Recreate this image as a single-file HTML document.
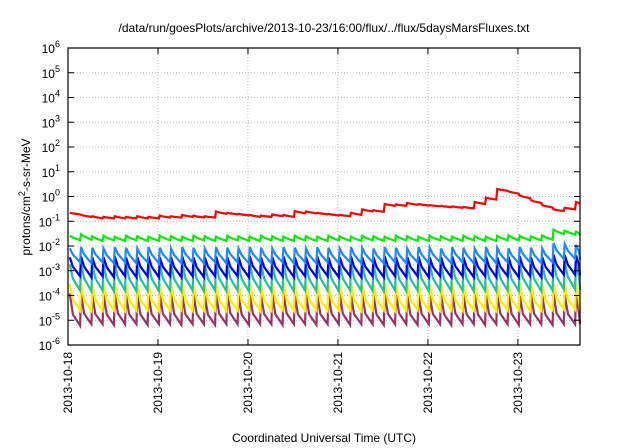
<!DOCTYPE html>
<html><head><meta charset="utf-8"><style>
body{margin:0;background:#fff;}
svg{display:block;font-family:"Liberation Sans",sans-serif;}
</style></head><body>
<svg id="chart" width="640" height="448" viewBox="0 0 640 448">
<text x="324" y="32" font-size="12" text-anchor="middle">/data/run/goesPlots/archive/2013-10-23/16:00/flux/../flux/5daysMarsFluxes.txt</text>
<text x="324" y="442" font-size="12" text-anchor="middle">Coordinated Universal Time (UTC)</text>
<text transform="translate(30,197) rotate(-90)" font-size="12" text-anchor="middle">protons/cm<tspan dy="-5" font-size="9">2</tspan><tspan dy="5">-s-sr-MeV</tspan></text>
<g id="grid"></g><g id="series"></g><g id="axes"></g>
</svg>
<script>
const xTickLabels=["2013-10-18","2013-10-19","2013-10-20","2013-10-21","2013-10-22","2013-10-23"];
const yExponents=[-6,-5,-4,-3,-2,-1,0,1,2,3,4,5,6];
const cycleTimes=[0.02,0.145,0.27,0.395,0.52,0.645,0.77,0.895,1.02,1.145,1.27,1.395,1.52,1.645,1.77,1.895,2.02,2.145,2.27,2.395,2.52,2.645,2.77,2.895,3.02,3.145,3.27,3.395,3.52,3.645,3.77,3.895,4.02,4.145,4.27,4.395,4.52,4.645,4.77,4.895,5.02,5.145,5.27,5.395,5.52,5.645];
const maroonPeak=[1.2e-4,1.1e-4,1.0e-4,1.1e-4,1.2e-4,1.0e-4,1.1e-4,1.0e-4, 1.1e-4,1.2e-4,1.0e-4,1.1e-4,1.0e-4,1.1e-4,1.2e-4,1.0e-4, 1.1e-4,1.0e-4,1.1e-4,1.2e-4,1.0e-4,1.1e-4,1.0e-4,1.1e-4, 1.2e-4,1.0e-4,1.1e-4,1.0e-4,1.1e-4,1.2e-4,1.0e-4,1.1e-4, 1.0e-4,1.1e-4,1.2e-4,1.0e-4,1.1e-4,1.0e-4,1.1e-4,1.2e-4, 1.0e-4,1.1e-4,1.0e-4,1.2e-4,1.1e-4,1.0e-4];
const maroonTrough=[6e-6,7e-6,7e-6,6.5e-6,7e-6,7e-6,6.5e-6,7e-6, 7e-6,6.5e-6,7e-6,7e-6,6.5e-6,7e-6,7e-6,6.5e-6, 7e-6,7e-6,6.5e-6,7e-6,7e-6,6.5e-6,7e-6,7e-6, 6.5e-6,7e-6,7e-6,6.5e-6,7e-6,7e-6,6.5e-6,7e-6, 7e-6,6.5e-6,7e-6,7e-6,6.5e-6,7e-6,7e-6,6.5e-6, 7e-6,7e-6,6.5e-6,7e-6,7e-6,7e-6];
const yellowPeak=[3e-4,3.2e-4,2.8e-4,3e-4,3.2e-4,2.8e-4,3e-4,3.2e-4, 2.8e-4,3e-4,3.2e-4,2.8e-4,3e-4,3.2e-4,2.8e-4,3e-4, 3.2e-4,2.8e-4,3e-4,3.2e-4,2.8e-4,3e-4,3.2e-4,2.8e-4, 3e-4,3.2e-4,2.8e-4,3e-4,3.2e-4,2.8e-4,3e-4,3.2e-4, 2.8e-4,3e-4,3.2e-4,2.8e-4,3e-4,3.2e-4,2.8e-4,3e-4, 3.2e-4,2.8e-4,3e-4,3.4e-4,3.2e-4,3e-4];
const yellowTrough=[2.5e-5,2.4e-5,2.5e-5,2.6e-5,2.4e-5,2.5e-5,2.6e-5,2.4e-5, 2.5e-5,2.6e-5,2.4e-5,2.5e-5,2.6e-5,2.4e-5,2.5e-5,2.6e-5, 2.4e-5,2.5e-5,2.6e-5,2.4e-5,2.5e-5,2.6e-5,2.4e-5,2.5e-5, 2.6e-5,2.4e-5,2.5e-5,2.6e-5,2.4e-5,2.5e-5,2.6e-5,2.4e-5, 2.5e-5,2.6e-5,2.4e-5,2.5e-5,2.6e-5,2.4e-5,2.5e-5,2.6e-5, 2.4e-5,2.5e-5,2.6e-5,2.8e-5,2.8e-5,2.6e-5];
const tealPeak=[1.8e-3,2e-3,1.9e-3,1.8e-3,2e-3,1.9e-3,1.8e-3,2e-3, 1.9e-3,1.8e-3,2e-3,1.9e-3,1.8e-3,2e-3,1.9e-3,1.8e-3, 2e-3,1.9e-3,1.8e-3,2e-3,1.9e-3,1.8e-3,2e-3,1.9e-3, 1.8e-3,2e-3,1.9e-3,1.8e-3,2e-3,1.9e-3,1.8e-3,2e-3, 1.9e-3,1.8e-3,2e-3,1.9e-3,1.8e-3,2e-3,1.9e-3,1.8e-3, 2e-3,1.9e-3,1.8e-3,2.3e-3,2.2e-3,2.1e-3];
const tealTrough=[1.6e-4,1.5e-4,1.6e-4,1.5e-4,1.6e-4,1.5e-4,1.6e-4,1.5e-4, 1.6e-4,1.5e-4,1.6e-4,1.5e-4,1.6e-4,1.5e-4,1.6e-4,1.5e-4, 1.6e-4,1.5e-4,1.6e-4,1.5e-4,1.6e-4,1.5e-4,1.6e-4,1.5e-4, 1.6e-4,1.5e-4,1.6e-4,1.5e-4,1.6e-4,1.5e-4,1.6e-4,1.5e-4, 1.6e-4,1.5e-4,1.6e-4,1.5e-4,1.6e-4,1.5e-4,1.6e-4,1.5e-4, 1.6e-4,1.5e-4,1.6e-4,1.8e-4,1.8e-4,1.7e-4];
const bluePeak=[3.5e-3,3.8e-3,3.5e-3,3.6e-3,3.8e-3,3.5e-3,3.6e-3,3.8e-3, 3.5e-3,3.6e-3,3.8e-3,3.5e-3,3.6e-3,3.8e-3,3.5e-3,3.6e-3, 3.8e-3,3.5e-3,3.6e-3,3.8e-3,3.5e-3,3.6e-3,3.8e-3,3.5e-3, 3.6e-3,3.8e-3,3.5e-3,3.6e-3,3.8e-3,3.5e-3,3.6e-3,3.8e-3, 3.5e-3,3.6e-3,3.8e-3,3.5e-3,3.6e-3,3.8e-3,3.5e-3,3.6e-3, 3.8e-3,3.5e-3,3.6e-3,4.5e-3,4.3e-3,4.2e-3];
const blueTrough=[6e-4,5.5e-4,6e-4,5.5e-4,6e-4,5.5e-4,6e-4,5.5e-4, 6e-4,5.5e-4,6e-4,5.5e-4,6e-4,5.5e-4,6e-4,5.5e-4, 6e-4,5.5e-4,6e-4,5.5e-4,6e-4,5.5e-4,6e-4,5.5e-4, 6e-4,5.5e-4,6e-4,5.5e-4,6e-4,5.5e-4,6e-4,5.5e-4, 6e-4,5.5e-4,6e-4,5.5e-4,6e-4,5.5e-4,6e-4,5.5e-4, 6e-4,5.5e-4,6e-4,7e-4,7e-4,6.5e-4];
const skyPeak=[8e-3,9e-3,8.5e-3,8e-3,9e-3,8.5e-3,8e-3,9e-3, 8.5e-3,8e-3,9e-3,8.5e-3,8e-3,9e-3,8.5e-3,8e-3, 9e-3,8.5e-3,8e-3,9e-3,8.5e-3,8e-3,9e-3,8.5e-3, 8e-3,9e-3,8.5e-3,8e-3,9e-3,8.5e-3,8e-3,9e-3, 8.5e-3,8e-3,9e-3,8.5e-3,8e-3,9e-3,8.5e-3,8e-3, 9e-3,8.5e-3,8e-3,1.3e-2,1.2e-2,1.1e-2];
const skyTrough=[2.2e-3,2e-3,2.2e-3,2e-3,2.2e-3,2e-3,2.2e-3,2e-3, 2.2e-3,2e-3,2.2e-3,2e-3,2.2e-3,2e-3,2.2e-3,2e-3, 2.2e-3,2e-3,2.2e-3,2e-3,2.2e-3,2e-3,2.2e-3,2e-3, 2.2e-3,2e-3,2.2e-3,2e-3,2.2e-3,2e-3,2.2e-3,2e-3, 2.2e-3,2e-3,2.2e-3,2e-3,2.2e-3,2e-3,2.2e-3,2e-3, 2.2e-3,2e-3,2.2e-3,3e-3,3e-3,2.8e-3];
const greenPeak=[0.026,0.03,0.025,0.026,0.024,0.026,0.025,0.024, 0.026,0.025,0.024,0.026,0.025,0.024,0.026,0.025, 0.024,0.026,0.025,0.024,0.026,0.025,0.024,0.026, 0.025,0.024,0.026,0.025,0.024,0.026,0.025,0.024, 0.026,0.025,0.024,0.026,0.025,0.024,0.026,0.027, 0.026,0.025,0.027,0.046,0.042,0.038];
const greenTrough=[0.017,0.018,0.016,0.017,0.016,0.017,0.016,0.016, 0.017,0.016,0.016,0.017,0.016,0.016,0.017,0.016, 0.016,0.017,0.016,0.016,0.017,0.016,0.016,0.017, 0.016,0.016,0.017,0.016,0.016,0.017,0.016,0.016, 0.017,0.016,0.016,0.017,0.016,0.016,0.017,0.017, 0.017,0.017,0.018,0.03,0.029,0.027];
const redPeak=[0.22,0.18,0.16,0.15,0.16,0.15,0.16,0.15, 0.17,0.16,0.18,0.17,0.16,0.25,0.22,0.2, 0.18,0.17,0.19,0.18,0.26,0.25,0.22,0.2, 0.18,0.22,0.3,0.28,0.5,0.48,0.55,0.5, 0.45,0.42,0.4,0.38,0.6,0.9,2.0,1.6, 1.1,0.7,0.45,0.3,0.35,0.6];
const redTrough=[0.19,0.15,0.13,0.13,0.13,0.13,0.13,0.13, 0.14,0.14,0.15,0.14,0.14,0.2,0.19,0.17, 0.15,0.15,0.16,0.15,0.21,0.21,0.19,0.17, 0.16,0.18,0.25,0.24,0.42,0.42,0.46,0.43, 0.4,0.37,0.35,0.33,0.5,0.75,1.7,1.3, 0.85,0.55,0.36,0.26,0.3,0.5];

const NS="http://www.w3.org/2000/svg";
const L=68,R=580,T=48,B=345,DAYS=5.69;
const xs=d=>L+(R-L)*d/DAYS;
const ys=v=>B-(B-T)*(Math.log10(v)+6)/12;
function mk(tag,parent,attrs){const e=document.createElementNS(NS,tag);for(const k in attrs)e.setAttribute(k,attrs[k]);parent.appendChild(e);return e;}
const grid=document.getElementById('grid'),axes=document.getElementById('axes'),ser=document.getElementById('series');
yExponents.forEach((e,i)=>{
  const y=ys(Math.pow(10,e));
  if(e>-6&&e<6){const g=mk('line',grid,{x1:L,x2:R,y1:y,y2:y,stroke:'#bbb','stroke-dasharray':'1,2','stroke-width':1});
  
  }
  const t=mk('text',axes,{x:L-8,y:y+5,'font-size':12,'text-anchor':'end'});
  
  
  t.innerHTML='10<tspan dy="-6" font-size="9">'+e+'</tspan>';
  mk('line',axes,{x1:L,x2:L+6,y1:y,y2:y,stroke:'#000'});
  mk('line',axes,{x1:R,x2:R-6,y1:y,y2:y,stroke:'#000'});
});
xTickLabels.forEach((lab,i)=>{
  const x=xs(i);
  if(i>0){const g=mk('line',grid,{x1:x,x2:x,y1:T,y2:B,stroke:'#bbb','stroke-dasharray':'1,2','stroke-width':1});
  
  }
  mk('line',axes,{x1:x,x2:x,y1:B,y2:B-6,stroke:'#000'});
  mk('line',axes,{x1:x,x2:x,y1:T,y2:T+6,stroke:'#000'});
  const t=mk('text',axes,{transform:`translate(${x+4},352) rotate(-90)`,'font-size':12,'text-anchor':'end'});
  
  
  t.textContent=lab;
});
const frame=mk('rect',axes,{x:L,y:T,width:R-L,height:B-T,fill:'none',stroke:'#000','stroke-width':1.2});


function saw(peaks,troughs,color,name,curve){
  const pts=[];
  cycleTimes.forEach((t,i)=>{
    const lp=Math.log10(peaks[i]),lt=Math.log10(troughs[i]);
    pts.push([t,lp]);
    pts.push([Math.min(t+0.035,DAYS),lt+curve*(lp-lt)]);
    pts.push([Math.min(t+0.115,DAYS),lt]);
  });
  const p=mk('polyline',ser,{points:pts.map(q=>xs(q[0]).toFixed(1)+','+ys(Math.pow(10,q[1])).toFixed(1)).join(' '),fill:'none',stroke:color,'stroke-width':2.2,'stroke-linejoin':'miter'});
  
  
}
saw(maroonPeak,maroonTrough,'#993366','series-maroon',0.35);
saw(yellowPeak,yellowTrough,'#ffee00','series-yellow',0.4);
saw(tealPeak,tealTrough,'#22c0a0','series-teal',0.45);
saw(bluePeak,blueTrough,'#0000ee','series-blue',0.5);
saw(skyPeak,skyTrough,'#1e88ff','series-sky',0.55);
saw(greenPeak,greenTrough,'#00ee00','series-green',0.6);
saw(redPeak,redTrough,'#ff0000','series-red',0.6);
</script>
</body></html>
